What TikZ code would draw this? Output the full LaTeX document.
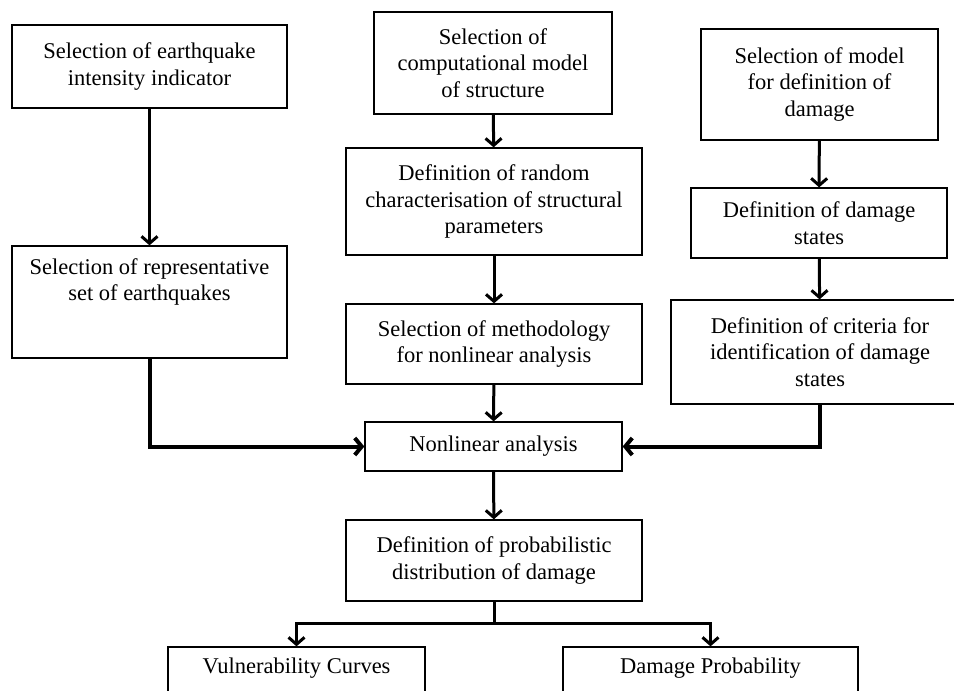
\documentclass[tikz,border=0pt]{standalone}
\usepackage{fontspec}
\setmainfont{Liberation Serif}
\usepackage{tikz}
\usetikzlibrary{arrows.meta}

\tikzset{
  box/.style={draw, line width=1.3pt, align=center, inner sep=0pt,
    font=\fontsize{22.5}{26.5}\selectfont},
  toptext/.style={anchor=north, align=center, inner sep=0pt,
    font=\fontsize{22.5}{26.5}\selectfont},
  flow/.style={line width=3pt, -{Straight Barb[length=7pt,width=16pt]}},
  sideflow/.style={line width=4pt, -{Straight Barb[length=7pt,width=17pt]}},
  plain/.style={line width=3pt}
}

\begin{document}
\begin{tikzpicture}[x=1pt, y=-1pt]

  \useasboundingbox (0, 0) rectangle (954, 691);

  % left column
  \node[box, minimum width=275, minimum height=83] (intens) at (149.5, 66.5) {Selection of earthquake\\intensity indicator};
  \node[box, minimum width=275, minimum height=112] (repr) at (149.5, 302) {};
  \node[toptext, yshift=-13] (repr-t) at (repr.north) {Selection of representative\\set of earthquakes};

  % middle column
  \node[box, minimum width=238, minimum height=102] (compmodel) at (493, 63) {Selection of\\computational model\\of structure};
  \node[box, minimum width=296, minimum height=107] (randpar) at (494, 201.5) {Definition of random\\characterisation of structural\\parameters};
  \node[box, minimum width=296, minimum height=80] (method) at (494, 344) {Selection of methodology\\for nonlinear analysis};

  % right column
  \node[box, minimum width=237, minimum height=111] (dmgmodel) at (819.5, 84.5) {Selection of model\\for definition of\\damage};
  \node[box, minimum width=256, minimum height=70] (dmgstates) at (819, 223) {Definition of damage\\states};
  \node[box, minimum width=298, minimum height=104] (criteria) at (820, 352) {Definition of criteria for\\identification of damage\\states};

  % bottom part
  \node[box, minimum width=257, minimum height=49] (nonlin) at (493.5, 446.5) {Nonlinear analysis};
  \node[box, minimum width=296, minimum height=81] (probdist) at (494, 560.5) {Definition of probabilistic\\distribution of damage};
  \coordinate (split) at (494, 623);
  \node[box, minimum width=257, minimum height=60] (vulcurves) at (296.5, 677) {};
  \node[toptext, yshift=-11.5] (vulcurves-t) at (vulcurves.north) {Vulnerability Curves};
  \node[box, minimum width=295, minimum height=60] (dmgprob) at (710.5, 677) {};
  \node[toptext, yshift=-11.5] (dmgprob-t) at (dmgprob.north) {Damage Probability};

  \draw [flow] (intens) -- (repr);
  \draw [flow] (compmodel) -- (randpar);
  \draw [flow] (randpar) -- (method);
  \draw [flow] (method) -- (nonlin);
  \draw [flow] (dmgmodel) -- (dmgstates);
  \draw [flow] (dmgstates) -- (criteria);
  \draw [sideflow] (repr.south) |- (nonlin.west);
  \draw [sideflow] (criteria.south) |- (nonlin.east);
  \draw [flow] (nonlin) -- (probdist);
  \draw [plain] (probdist.south) -- (split);
  \draw [flow] (split) -| (vulcurves.north);
  \draw [flow] (split) -| (dmgprob.north);

\end{tikzpicture}
\end{document}
